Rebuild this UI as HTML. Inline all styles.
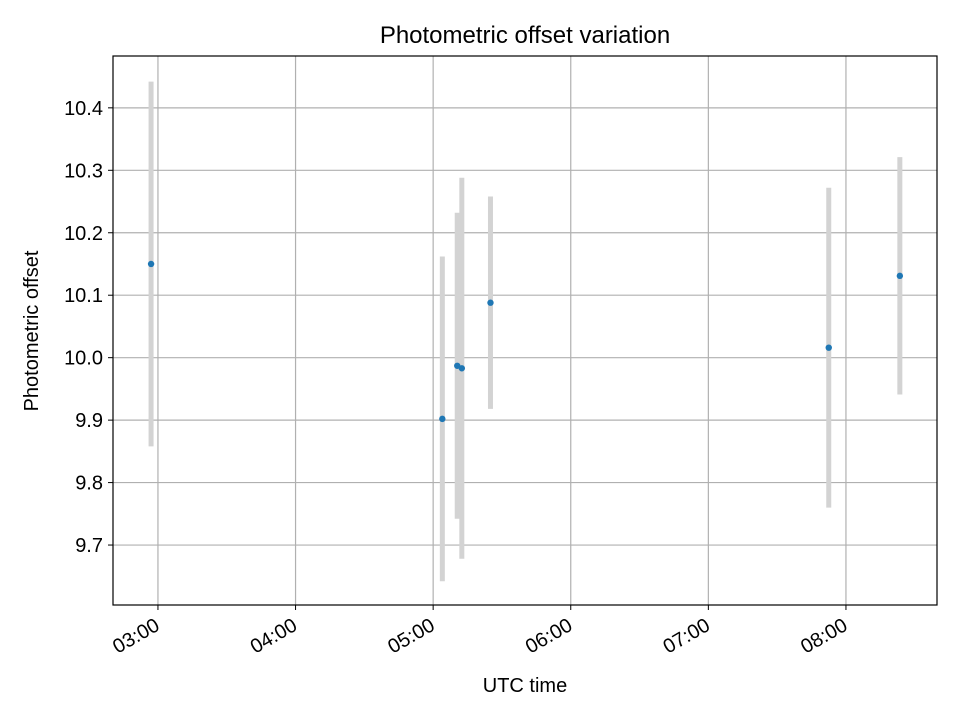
<!DOCTYPE html>
<html><head><meta charset="utf-8"><style>
body{margin:0;background:#fff}
svg text{font-family:"Liberation Sans",sans-serif;fill:#000}
</style></head><body>
<svg id="chart" width="960" height="720" xmlns="http://www.w3.org/2000/svg">
<rect width="960" height="720" fill="#fff"/>
<text x="525" y="43" font-size="24" text-anchor="middle">Photometric offset variation</text>
<text x="525" y="692" font-size="20" text-anchor="middle">UTC time</text>
<text transform="translate(38,331) rotate(-90)" font-size="20" text-anchor="middle">Photometric offset</text>
<g id="grid"></g><g id="marks"></g><g id="ticks"></g>
<rect x="113" y="56" width="824" height="549" fill="none" stroke="#000" stroke-width="1.2"/>
</svg>
<script>
const times = ["02:57","05:04","05:10.5","05:12.5","05:25","07:52.5","08:23.5"];
const offsets = [10.150, 9.902, 9.987, 9.983, 10.088, 10.016, 10.131];
const errors = [0.292, 0.26, 0.245, 0.305, 0.17, 0.256, 0.19];
const xTickLabels = ["03:00","04:00","05:00","06:00","07:00","08:00"];
const yTickLabels = ["9.7","9.8","9.9","10.0","10.1","10.2","10.3","10.4"];
const NS="http://www.w3.org/2000/svg";
const toMin=s=>{const [h,m]=s.split(":");return +h*60+parseFloat(m);};
const X0=113,X1=937,Y0=56,Y1=605;
const tMin=toMin("02:40.4"),tMax=toMin("08:39.7"),vMin=9.604,vMax=10.483;
const xs=t=>X0+(toMin(t)-tMin)/(tMax-tMin)*(X1-X0);
const ys=v=>Y1-(v-vMin)/(vMax-vMin)*(Y1-Y0);
function mk(tag,attrs,parent){const e=document.createElementNS(NS,tag);for(const k in attrs)e.setAttribute(k,attrs[k]);document.getElementById(parent).appendChild(e);return e;}
xTickLabels.forEach(l=>{const x=xs(l);
 const g=mk("line",{x1:x,x2:x,y1:Y0,y2:Y1,stroke:"#b0b0b0","stroke-width":1.2},"grid");
 
 
 const t=mk("line",{x1:x,x2:x,y1:Y1,y2:Y1+5,stroke:"#000"},"ticks");
 
 
 const tx=mk("text",{transform:`translate(${x+3},${Y1+24}) rotate(-30)`,"font-size":20,"text-anchor":"end"},"ticks");
 tx.textContent=l;
 
 
});
yTickLabels.forEach(l=>{const y=ys(parseFloat(l));
 const g=mk("line",{x1:X0,x2:X1,y1:y,y2:y,stroke:"#b0b0b0","stroke-width":1.2},"grid");
 
 
 const t=mk("line",{x1:X0-5,x2:X0,y1:y,y2:y,stroke:"#000"},"ticks");
 
 
 const tx=mk("text",{x:X0-10,y:y+7,"font-size":20,"text-anchor":"end"},"ticks");
 tx.textContent=l;
 
 
});
times.forEach((t,i)=>{const x=xs(t);
 const b=mk("line",{x1:x,x2:x,y1:ys(offsets[i]+errors[i]),y2:ys(offsets[i]-errors[i]),stroke:"#d3d3d3","stroke-width":5},"marks");
 
 
});
times.forEach((t,i)=>{
 const c=mk("circle",{cx:xs(t),cy:ys(offsets[i]),r:3.2,fill:"#1f77b4"},"marks");
 
 
});
</script>
</body></html>
